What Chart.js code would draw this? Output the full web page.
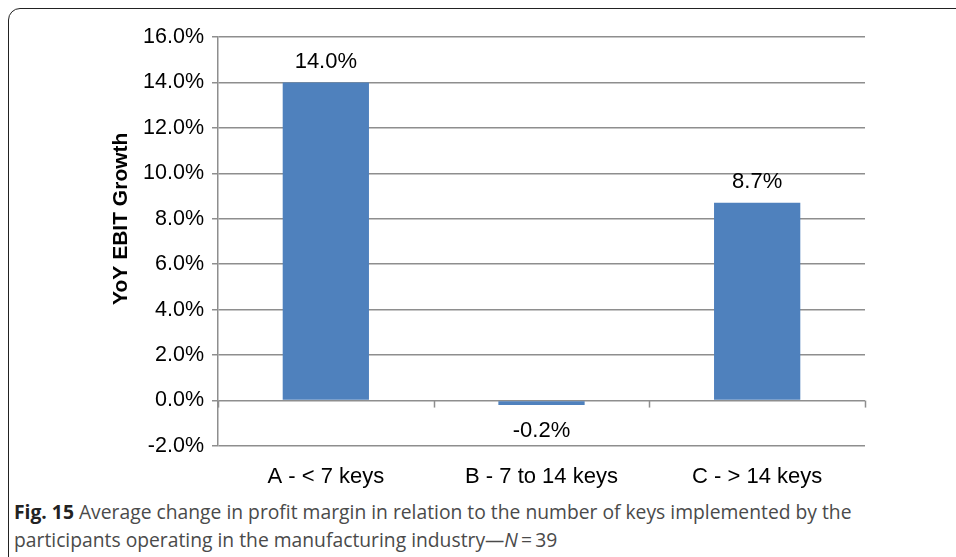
<!DOCTYPE html>
<html>
<head>
<meta charset="utf-8">
<script src="https://cdn.jsdelivr.net/npm/chart.js@4"></script>
<style>
  html, body { margin: 0; padding: 0; background: #fff; }
  body { width: 956px; height: 557px; position: relative; overflow: hidden; }
  #frame {
    position: absolute; left: 8px; top: 8px; width: 970px; height: 580px;
    border: 1.5px solid #222; border-radius: 12px; box-sizing: border-box;
  }
  #chartBox { position: absolute; left: 0; top: 0; width: 956px; height: 495px; }
  #caption {
    position: absolute; left: 14px; top: 498px; width: 935px;
    font-family: "Open Sans", "Noto Sans", sans-serif; font-size: 19.3px;
    line-height: 28px; color: #4a4a4a;
  }
  #caption b { color: #222; }
</style>
</head>
<body>
<div id="frame"></div>
<div id="chartBox"><canvas id="chart"></canvas></div>
<div id="caption"><b>Fig. 15</b> Average change in profit margin in relation to the number of keys implemented by the participants operating in the manufacturing industry—<i>N</i>&thinsp;=&thinsp;39</div>

<script>
const categories = ["A - < 7 keys", "B - 7 to 14 keys", "C - > 14 keys"];
const growthValues = [14.0, -0.2, 8.7];
const yMin = -2, yMax = 16, yStep = 2;
const yTitle = "YoY EBIT Growth";

const gridColor = "#8e8e8e";
const barColor = "#4f81bd";
const fontFamily = "'Liberation Sans', Arial, sans-serif";

// value labels above / below each bar
const valueLabels = {
  id: "valueLabels",
  afterDatasetsDraw(chart) {
    const { ctx } = chart;
    const meta = chart.getDatasetMeta(0);
    ctx.save();
    ctx.font = `22px ${fontFamily}`;
    ctx.fillStyle = "#000";
    ctx.textAlign = "center";
    meta.data.forEach((bar, i) => {
      const v = growthValues[i];
      if (v >= 0) {
        ctx.textBaseline = "bottom";
        ctx.fillText(v.toFixed(1) + "%", bar.x, bar.y - 10);
      } else {
        ctx.textBaseline = "top";
        ctx.fillText(v.toFixed(1) + "%", bar.x, bar.y + 15);
      }
    });
    ctx.restore();
  }
};

// small tick marks under the zero line between categories
const zeroTicks = {
  id: "zeroTicks",
  beforeDatasetsDraw(chart) {
    const { ctx, scales: { x, y } } = chart;
    const y0 = y.getPixelForValue(0);
    ctx.save();
    ctx.strokeStyle = gridColor;
    ctx.lineWidth = 1.5;
    for (let i = 0; i <= categories.length; i++) {
      const px = Math.round(x.getPixelForValue(i - 0.5)) + 0.5;
      ctx.beginPath();
      ctx.moveTo(px, y0);
      ctx.lineTo(px, y0 + 7);
      ctx.stroke();
    }
    ctx.restore();
  }
};

// y axis title, centred on the positive part of the axis like the original
const axisTitle = {
  id: "axisTitle",
  afterDraw(chart) {
    const { ctx, chartArea, scales: { y } } = chart;
    const cy = (y.getPixelForValue(0) + y.getPixelForValue(yMax)) / 2;
    ctx.save();
    ctx.translate(chartArea.left - 97, cy);
    ctx.rotate(-Math.PI / 2);
    ctx.font = `bold 21px ${fontFamily}`;
    ctx.fillStyle = "#000";
    ctx.textAlign = "center";
    ctx.textBaseline = "middle";
    ctx.fillText(yTitle, 0, 0);
    ctx.restore();
  }
};

new Chart(document.getElementById("chart"), {
  type: "bar",
  data: {
    labels: categories,
    datasets: [{
      data: growthValues,
      backgroundColor: barColor,
      barPercentage: 0.4,
      categoryPercentage: 1
    }]
  },
  options: {
    responsive: true,
    maintainAspectRatio: false,
    animation: false,
    layout: { padding: { left: 106, right: 91, top: 37, bottom: 0 } },
    plugins: {
      legend: { display: false },
      tooltip: { enabled: false }
    },
    scales: {
      x: {
        grid: { display: false },
        border: { display: false },
        ticks: {
          padding: 10,
          color: "#000",
          font: { family: fontFamily, size: 22 }
        },
        afterFit(scale) { scale.height = 495 - 446; }
      },
      y: {
        min: yMin,
        max: yMax,
        grid: { color: gridColor, lineWidth: 1.5, tickLength: 6 },
        border: { color: gridColor, width: 1.5 },
        ticks: {
          stepSize: yStep,
          padding: 8,
          color: "#000",
          font: { family: fontFamily, size: 21.5 },
          callback: v => v.toFixed(1) + "%"
        },
        afterFit(scale) { scale.width = 218 - 106; }
      }
    }
  },
  plugins: [zeroTicks, valueLabels, axisTitle]
});
</script>
</body>
</html>
